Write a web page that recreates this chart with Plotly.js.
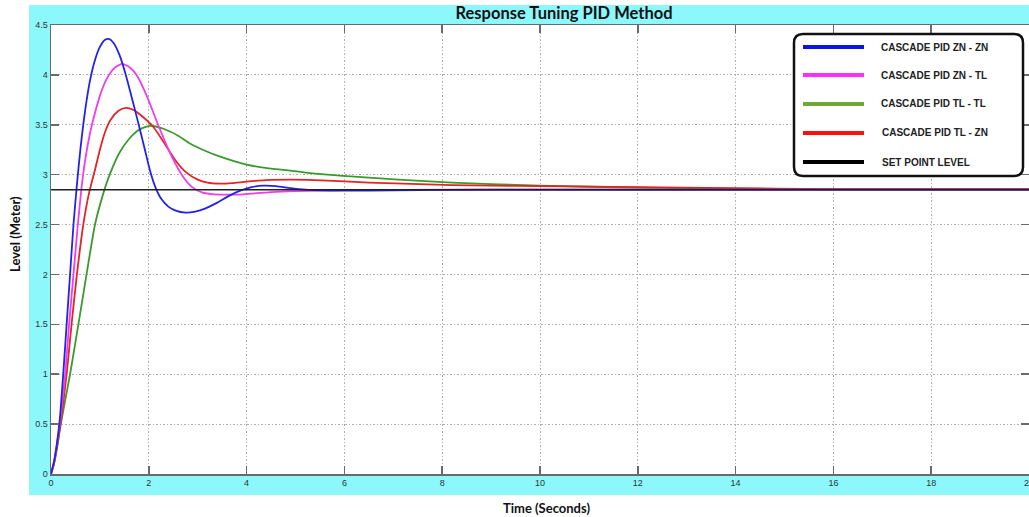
<!DOCTYPE html>
<html>
<head>
<meta charset="utf-8">
<script src="https://cdn.plot.ly/plotly-3.0.1.min.js"></script>
<style>html,body{margin:0;padding:0;background:#fff;}#chart{width:1029px;height:517px;}</style>
</head>
<body>
<div id="chart"></div>
<script>
// ---- Data ----
const seriesNames = ["CASCADE PID ZN - ZN", "CASCADE PID ZN - TL", "CASCADE PID TL - TL", "CASCADE PID TL - ZN", "SET POINT LEVEL"];

const tZNZN = [0,0.06,0.12,0.18,0.25,0.32,0.39,0.46,0.53,0.6,0.7,0.8,0.9,1.0,1.1,1.18,1.28,1.4,1.53,1.68,1.82,1.92,2.02,2.13,2.25,2.4,2.55,2.75,2.95,3.15,3.4,3.65,3.87,4.1,4.35,4.6,4.9,5.2,5.5,6,7,8,10,12,14,16,18,20];
const vZNZN = [0,0.12,0.3,0.55,1.0,1.5,2.0,2.5,2.9,3.25,3.65,3.95,4.15,4.28,4.35,4.36,4.32,4.2,4.0,3.72,3.45,3.25,3.05,2.88,2.76,2.68,2.64,2.62,2.63,2.66,2.72,2.79,2.84,2.875,2.89,2.885,2.865,2.85,2.843,2.84,2.843,2.848,2.85,2.85,2.85,2.85,2.85,2.85];

const tZNTL = [0,0.06,0.12,0.19,0.29,0.37,0.46,0.54,0.62,0.7,0.8,0.9,1.02,1.15,1.3,1.45,1.6,1.75,1.95,2.19,2.45,2.7,2.9,3.1,3.3,3.55,3.85,4.1,4.5,5,6,8,10,12,14,16,18,20];
const vZNTL = [0,0.12,0.3,0.55,1.0,1.5,2.0,2.45,2.85,3.15,3.42,3.62,3.82,3.97,4.07,4.11,4.08,4.0,3.8,3.5,3.2,2.98,2.87,2.82,2.805,2.8,2.8,2.81,2.825,2.835,2.845,2.85,2.85,2.85,2.85,2.85,2.85,2.85];

const tTLTL = [0,0.06,0.12,0.2,0.39,0.56,0.71,0.9,1.05,1.2,1.4,1.6,1.8,2.02,2.3,2.6,2.85,3.15,3.46,4.0,4.5,4.9,5.4,5.9,6.5,7.1,8.2,9,10,12,14,16,18,20];
const vTLTL = [0,0.1,0.25,0.5,1.0,1.5,1.95,2.5,2.78,3.0,3.22,3.36,3.45,3.49,3.46,3.39,3.31,3.24,3.18,3.1,3.06,3.04,3.01,2.99,2.97,2.95,2.92,2.905,2.89,2.87,2.86,2.855,2.855,2.855];

const tTLZN = [0,0.06,0.12,0.2,0.32,0.42,0.53,0.66,0.78,0.9,1.0,1.1,1.22,1.38,1.53,1.68,1.85,2.09,2.3,2.55,2.77,3.0,3.2,3.45,3.7,4.0,4.4,4.9,5.4,5.9,6.5,7.2,8.2,9,10,12,14.8,16,18,20];
const vTLZN = [0,0.1,0.27,0.52,1.0,1.5,2.0,2.5,2.82,3.05,3.25,3.42,3.55,3.64,3.67,3.65,3.59,3.48,3.33,3.14,3.02,2.95,2.92,2.91,2.915,2.93,2.945,2.95,2.945,2.935,2.92,2.91,2.895,2.89,2.885,2.875,2.86,2.855,2.855,2.855];

const tSet = [0,20];
const vSet = [2.85,2.85];

const xTicks = [0,2,4,6,8,10,12,14,16,18,20];
const yTicks = [0,0.5,1,1.5,2,2.5,3,3.5,4,4.5];

// ---- Styling ----
const plotColors = ["#2323e8","#ee3cee","#3c9a2c","#e42424","#202020"];
const legendColors = ["#0a14e6","#ff30ff","#6fa83a","#ff1010","#000000"];

const L=51, T=25, W=978, H=449, FW=1029, FH=517;
const px = x => (x-L)/W;
const py = y => (T+H-y)/H;

const mk = (x,y,i,w) => ({x:x,y:y,type:"scatter",mode:"lines",name:seriesNames[i],
  line:{color:plotColors[i],width:w||1.8,shape:"spline",smoothing:0.6},hoverinfo:"x+y"});

const traces = [
  mk(tTLTL,vTLTL,2),
  mk(tTLZN,vTLZN,3),
  mk(tZNTL,vZNTL,1),
  mk(tZNZN,vZNZN,0),
  {x:tSet,y:vSet,type:"scatter",mode:"lines",name:seriesNames[4],line:{color:plotColors[4],width:1.5}}
];

// rounded legend box
function roundRect(x0,y0,x1,y1,r){
  const a=px(x0),b=px(x1),top=py(y0),bot=py(y1);
  const rx=r/W, ry=r/H;
  return `M ${a+rx},${top} L ${b-rx},${top} Q ${b},${top} ${b},${top-ry} L ${b},${bot+ry} Q ${b},${bot} ${b-rx},${bot} L ${a+rx},${bot} Q ${a},${bot} ${a},${bot+ry} L ${a},${top-ry} Q ${a},${top} ${a+rx},${top} Z`;
}

const shapes = [
  {type:"rect",xref:"paper",yref:"paper",x0:px(29),x1:px(1029),y0:py(495),y1:py(5),fillcolor:"#8cf8fb",line:{width:0},layer:"below"},
  {type:"rect",xref:"paper",yref:"paper",x0:0,x1:1,y0:0,y1:1,fillcolor:"#ffffff",line:{width:0},layer:"below"},
  {type:"path",xref:"paper",yref:"paper",path:roundRect(794,34,1023,176,9),fillcolor:"#ffffff",line:{color:"#111",width:2.5},layer:"above"}
];
const rowsY = [47,75,104,133,162];
const annotations = [];
rowsY.forEach((y,i)=>{
  shapes.push({type:"line",xref:"paper",yref:"paper",x0:px(803),x1:px(864),y0:py(y),y1:py(y),line:{color:legendColors[i],width:4},layer:"above"});
  annotations.push({xref:"paper",yref:"paper",x:px(i>=3?880:879),y:py(y),xanchor:"left",yanchor:"middle",showarrow:false,
    text:"<b>"+seriesNames[i]+"</b>",font:{family:"Liberation Sans, Arial, sans-serif",size:10,color:"#222"}});
});
annotations.push({xref:"paper",yref:"paper",x:px(546),y:py(508),xanchor:"center",yanchor:"middle",showarrow:false,
  text:"<b>Time (Seconds)</b>",font:{family:"Lato, sans-serif",size:13,color:"#111"}});
annotations.push({xref:"paper",yref:"paper",x:px(15),y:py(234),xanchor:"center",yanchor:"middle",showarrow:false,textangle:-90,
  text:"<b>Level (Meter)</b>",font:{family:"Lato, sans-serif",size:13,color:"#111"}});

const axisCommon = {showgrid:true,gridcolor:"#b0b0b0",griddash:"1.5px,2px",gridwidth:1,zeroline:false,
  showline:true,linecolor:"#6a6a6a",linewidth:1.5,mirror:"ticks",ticks:"inside",ticklen:8,tickwidth:1.5,tickcolor:"#6a6a6a",
  ticklabeloverflow:"allow",
  tickfont:{family:"Liberation Sans, Arial, sans-serif",size:9,color:"#333"},fixedrange:true};

const layout = {
  width:FW,height:FH,
  margin:{l:L,r:FW-L-W,t:T,b:FH-T-H},
  paper_bgcolor:"#ffffff",plot_bgcolor:"rgba(0,0,0,0)",
  showlegend:false,
  title:{text:"<b>Response Tuning PID Method</b>",x:564/FW,xanchor:"center",y:1-13/FH,yanchor:"middle",xref:"container",yref:"container",
    font:{family:"Lato, sans-serif",size:16.5,color:"#111"}},
  xaxis:Object.assign({},axisCommon,{range:[0,20],tickmode:"array",tickvals:xTicks,ticktext:xTicks.map(String)}),
  yaxis:Object.assign({},axisCommon,{range:[0,4.5],tickmode:"array",tickvals:yTicks,ticktext:yTicks.map(String)}),
  shapes:shapes,
  annotations:annotations
};

Plotly.newPlot("chart",traces,layout,{displayModeBar:false,staticPlot:true});
</script>
</body>
</html>
